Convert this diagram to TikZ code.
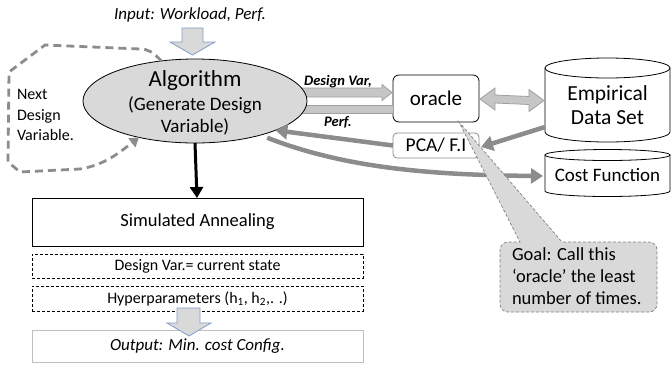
\documentclass[tikz,border=0pt]{standalone}
\usepackage{fontspec}
\setmainfont{Carlito}
\usetikzlibrary{shapes.geometric,arrows.meta,calc}
\definecolor{lightfill}{HTML}{D9D9D9}
\definecolor{arrgray}{HTML}{8C8C8C}
\definecolor{blkfill}{HTML}{C6C6C6}
\definecolor{blkdraw}{HTML}{A0A0A0}
\definecolor{bluedraw}{HTML}{7F9CC4}
\definecolor{outgray}{HTML}{BFBFBF}
\definecolor{callgray}{HTML}{808080}
\newcommand{\fs}[2]{\fontsize{#1}{#2}\selectfont}
\tikzset{
  txt/.style={inner sep=0pt, outer sep=0pt},
  blockarrow/.style={fill=lightfill, draw=bluedraw, line width=0.8pt},
  grayblock/.style={fill=blkfill, draw=blkdraw, line width=0.8pt},
  thickgray/.style={draw=arrgray, line width=4.5pt},
  graytip/.style={-{Triangle[width=15pt,length=12pt]}},
  cyl/.style={draw=black, line width=0.8pt, fill=white},
  dashbox/.style={draw=black, line width=0.7pt, dash pattern=on 3pt off 2pt},
}
\begin{document}
\begin{tikzpicture}[x=1pt,y=-1pt]
\useasboundingbox (0,0) rectangle (671,365);

% ---- input block arrow
\node[txt] (input) at (190,15) {\fs{17}{20}\itshape Input: Workload, Perf.};
\draw[blockarrow] (182,28) -- (203,28) -- (203,42) -- (215,42) -- (192.5,55) -- (170,42) -- (182,42) -- cycle;

% ---- oracle and PCA boxes
\node[draw=black, line width=0.8pt, rounded corners=6pt, minimum width=86pt, minimum height=47pt, txt] (oracle) at (436,98.5) {\fs{21}{24}oracle};
\node[draw=arrgray, line width=0.8pt, rounded corners=4pt, minimum width=86pt, minimum height=25pt, txt] (pca) at (436,145.5) {\fs{19.5}{22}PCA/ F.I};

% ---- arrows between algorithm and oracle (drawn before ellipse)
\coordinate (dvstart) at (285,92.5);
\draw[grayblock] (dvstart) ++(0,-4.5) -- ($(oracle.west)+(-11,-10.5)$) -- ($(oracle.west)+(-11,-14)$) -- ($(oracle.west)+(-1,-6)$) -- ($(oracle.west)+(-11,2)$) -- ($(oracle.west)+(-11,-1.5)$) -- ($(dvstart)+(0,4.5)$) -- cycle;
\coordinate (pfstart) at (285,109);
\draw[grayblock] ($(pfstart)+(0,-4)$) -- ($(oracle.west)+(0,6.5)$) -- ($(oracle.west)+(0,14.5)$) -- ($(pfstart)+(0,4)$) -- cycle;

% ---- algorithm ellipse
\node[ellipse, draw=black, line width=0.8pt, fill=lightfill, minimum width=224pt, minimum height=84pt, txt] (alg) at (195,101) {};
\node[txt] (algt1) at (195,80) {\fs{23}{26}Algorithm};
\node[txt] (algt2) at (195,105) {\fs{19}{22}(Generate Design};
\node[txt] (algt3) at (195,127) {\fs{19}{22}Variable)};

\node[txt] (dvlab) at (338,82) {\fs{14.5}{18}\bfseries\itshape Design Var,};
\node[txt] (pflab) at (338,122) {\fs{14.5}{18}\bfseries\itshape Perf.};

% ---- dashed loop
\draw[draw=arrgray, line width=2.8pt, dash pattern=on 8pt off 5pt, -{Triangle[width=11pt,length=9pt]}]
  (alg.130) .. controls (153,52) and (148,49) .. (140,49) -- (45,45) -- (9,72) -- (8,162) -- (20,172) -- (80,169) .. controls (105,165) and (120,152) .. (alg.-147);
\node[txt, align=left, anchor=west, font=\fs{16}{20.5}] (nextdv) at (17,115) {Next\\Design\\Variable.};

% ---- cylinders
\node[minimum width=125pt, minimum height=84pt, txt] (emp) at (607.5,100) {};
\draw[cyl] (545,68) -- (545,132) arc[start angle=180, end angle=360, x radius=62.5, y radius=-10] -- (670,68);
\draw[cyl] (607.5,68) ellipse[x radius=62.5, y radius=10];
\node[txt] (empt1) at (607.5,95) {\fs{21.5}{24}Empirical};
\node[txt] (empt2) at (607.5,118) {\fs{21.5}{24}Data Set};

\node[minimum width=125pt, minimum height=46pt, txt] (cost) at (607.5,175) {};
\draw[cyl] (545,155) -- (545,191) arc[start angle=180, end angle=360, x radius=62.5, y radius=-5.5] -- (670,155);
\draw[cyl] (607.5,155) ellipse[x radius=62.5, y radius=5.5];
\node[txt] (costt) at (607.5,175) {\fs{19}{22}Cost Function};

% ---- oracle <-> empirical double block arrow
\draw[grayblock] ($(oracle.east)+(1,0.5)$) -- ($(oracle.east)+(16,-10.5)$) -- ($(oracle.east)+(16,-3.5)$) -- ($(emp.west)+(-16,-3.5)$) -- ($(emp.west)+(-16,-10.5)$) -- ($(emp.west)+(-1,0.5)$) -- ($(emp.west)+(-16,11.5)$) -- ($(emp.west)+(-16,4.5)$) -- ($(oracle.east)+(16,4.5)$) -- ($(oracle.east)+(16,11.5)$) -- cycle;

% ---- gray arrows
\draw[thickgray, graytip] ($(emp.west)+(0,27)$) -- ($(pca.east)+(2,1.5)$);
\draw[thickgray, graytip] (pca.west) -- (alg.-20);
\draw[thickgray, graytip] ($(alg.-25)+(2,4)$) .. controls (340,166) and (420,175) .. ($(cost.west)+(-2,1)$);

% ---- black arrow down
\draw[line width=3pt, -{Triangle[width=13pt,length=11pt]}] (alg.south) -- (197,198);

% ---- simulated annealing stack
\node[draw=black, line width=0.8pt, minimum width=331pt, minimum height=48pt, txt] (sa) at (197.5,222) {\fs{18.5}{22}Simulated Annealing};
\node[dashbox, minimum width=331pt, minimum height=24pt, txt] (dvbox) at (197.5,266) {\fs{16}{19}Design Var.= current state};
\node[dashbox, minimum width=331pt, minimum height=25pt, txt] (hpbox) at (197.5,298.5) {\fs{16}{19}Hyperparameters (h\textsubscript{1}, h\textsubscript{2},. .)};
\node[draw=outgray, line width=0.8pt, minimum width=331pt, minimum height=32pt, txt] (outbox) at (197.5,346) {\fs{17}{20}\itshape Output: Min. cost Config.};
\draw[blockarrow] (177,308) -- (200,308) -- (200,323) -- (211,323) -- (189,336) -- (167,323) -- (177,323) -- cycle;

% ---- callout
\coordinate (goalpt) at ($(oracle.south)+(23,0)$);
\draw[fill=lightfill, draw=callgray, line width=0.7pt, dash pattern=on 3pt off 2pt]
  (500,270) [rounded corners=8pt] -- (500,242) [sharp corners] -- (520,242) -- (goalpt) -- (562,242) [rounded corners=8pt] -- (657,242) -- (657,312) -- (500,312) -- cycle;
\node[txt, align=left, anchor=west, font=\fs{18.5}{22}] (goal) at (512,276) {Goal: Call this\\‘oracle’ the least\\number of times.};
\end{tikzpicture}
\end{document}
